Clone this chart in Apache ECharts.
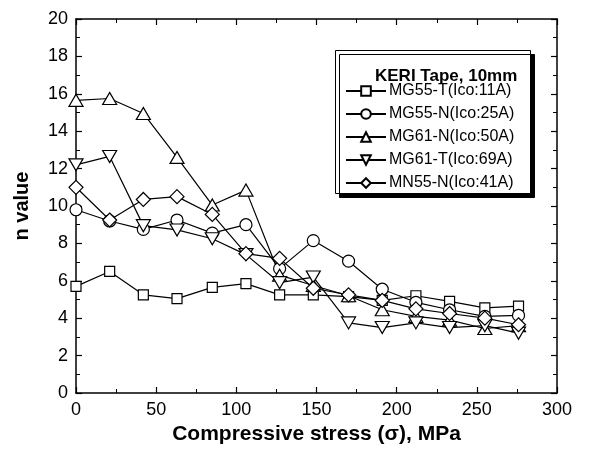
<!DOCTYPE html>
<html>
<head>
<meta charset="utf-8">
<script src="https://cdn.jsdelivr.net/npm/echarts@6/dist/echarts.min.js"></script>
<style>
html,body{margin:0;padding:0;background:#fff;}
#c{width:616px;height:457px;}
</style>
</head>
<body>
<div id="c"></div>
<script>
// ---- data ----
const stress = [0, 21, 42, 63, 85, 106, 127, 148, 170, 191, 212, 233, 255, 276];
const mg55T = [5.7, 6.5, 5.25, 5.05, 5.65, 5.85, 5.25, 5.25, 5.15, 4.95, 5.2, 4.9, 4.55, 4.65];
const mg55N = [9.8, 9.2, 8.75, 9.25, 8.55, 9.0, 6.65, 8.15, 7.05, 5.55, 4.85, 4.45, 4.1, 4.15];
const mg61N = [15.65, 15.75, 14.95, 12.6, 10.05, 10.85, 6.3, 5.75, 5.2, 4.45, 4.1, 3.9, 3.45, 3.6];
const mg61T = [12.2, 12.65, 8.95, 8.72, 8.25, 7.4, 5.9, 6.2, 3.75, 3.5, 3.75, 3.5, 3.6, 3.2];
const mn55N = [11.0, 9.25, 10.35, 10.5, 9.55, 7.45, 7.2, 5.6, 5.25, 4.95, 4.5, 4.25, 4.0, 3.65];
const seriesNames = ['MG55-T(Ico:11A)', 'MG55-N(Ico:25A)', 'MG61-N(Ico:50A)', 'MG61-T(Ico:69A)', 'MN55-N(Ico:41A)'];
const legendTitle = 'KERI Tape, 10mm';
const xTicks = [0, 50, 100, 150, 200, 250, 300];
const yTicks = [0, 2, 4, 6, 8, 10, 12, 14, 16, 18, 20];

const FONT = 'Liberation Sans, Arial, sans-serif';
const pair = (ys) => stress.map((x, i) => [x, ys[i]]);
const symbols = ['rect', 'circle', 'triangle', 'path://M0,0 L10,0 L5,9 Z', 'diamond'];
const sizes = [[10, 10], 12, [14, 12], [14, 12], [14, 14]];
const all = [mg55T, mg55N, mg61N, mg61T, mn55N];

const axisCommon = {
  axisLine: { show: true, onZero: false, lineStyle: { color: '#000', width: 1.5 } },
  axisTick: { show: true, inside: true, length: 6, lineStyle: { color: '#000', width: 1.2 } },
  minorTick: { show: true, splitNumber: 2, length: 4, lineStyle: { color: '#000', width: 1 } },
  splitLine: { show: false }
};

const chart = echarts.init(document.getElementById('c'), null, { renderer: 'canvas' });
chart.setOption({
  backgroundColor: '#fff',
  animation: false,
  grid: { left: 76, right: 59, top: 19, bottom: 64, containLabel: false },
  xAxis: [
    Object.assign({}, axisCommon, {
      type: 'value', min: xTicks[0], max: xTicks[xTicks.length - 1], interval: 50, position: 'bottom',
      name: 'Compressive stress (σ), MPa', nameLocation: 'middle', nameGap: 31,
      nameTextStyle: { fontFamily: FONT, fontWeight: 'bold', fontSize: 21, color: '#000' },
      axisLabel: { fontFamily: FONT, fontSize: 18, color: '#000', margin: 8 }
    }),
    Object.assign({}, axisCommon, {
      type: 'value', min: 0, max: 300, interval: 50, position: 'top',
      axisLabel: { show: false }
    })
  ],
  yAxis: [
    Object.assign({}, axisCommon, {
      type: 'value', min: yTicks[0], max: yTicks[yTicks.length - 1], interval: 2, position: 'left',
      name: 'n value', nameLocation: 'middle', nameGap: 44,
      nameTextStyle: { fontFamily: FONT, fontWeight: 'bold', fontSize: 20, color: '#000' },
      axisLabel: { fontFamily: FONT, fontSize: 18, color: '#000', margin: 8 }
    }),
    Object.assign({}, axisCommon, {
      type: 'value', min: 0, max: 20, interval: 2, position: 'right',
      axisLabel: { show: false }
    })
  ],
  title: {
    text: legendTitle, left: 370, top: 63,
    textStyle: { fontFamily: FONT, fontWeight: 'bold', fontSize: 17, color: '#000' }
  },
  legend: {
    orient: 'vertical', left: 340, top: 78,
    itemWidth: 40, itemHeight: 12, itemGap: 7,
    textStyle: { fontFamily: FONT, fontSize: 16, color: '#000', padding: [0, 0, 0, -2] },
    data: seriesNames
  },
  graphic: [{
    type: 'rect', left: 335, top: 50, z: 0,
    shape: { width: 195, height: 143 },
    style: { fill: '#fff', stroke: '#000', lineWidth: 1, shadowColor: '#000', shadowOffsetX: 4, shadowOffsetY: 4, shadowBlur: 0 }
  }],
  series: all.map((ys, i) => ({
    name: seriesNames[i], type: 'line', data: pair(ys),
    symbol: symbols[i], symbolSize: sizes[i], showAllSymbol: true,
    lineStyle: { color: '#000', width: 1.2 },
    itemStyle: { color: '#fff', borderColor: '#000', borderWidth: 1.2 },
    z: 3
  }))
});
</script>
</body>
</html>
